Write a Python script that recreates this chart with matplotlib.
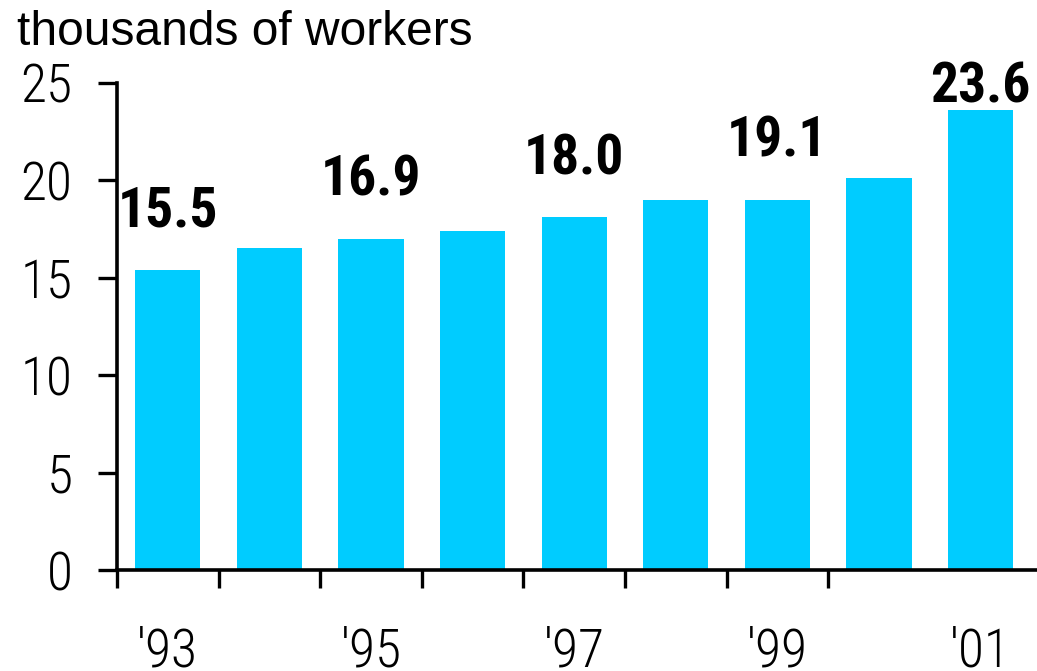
import matplotlib
matplotlib.use("Agg")
import matplotlib.pyplot as plt

# dados
anos = ["'93", "", "'95", "", "'97", "", "'99", "", "'01"]
valores = [15.4, 16.5, 17.0, 17.4, 18.1, 19.0, 19.0, 20.1, 23.6]
rotulos = ["15.5", "", "16.9", "", "18.0", "", "19.1", "", "23.6"]

cor = "#00CCFF"
fonte_estreita = ["Roboto Condensed", "DejaVu Sans"]

fig = plt.figure(figsize=(10.37, 6.71), dpi=100)
ax = fig.add_axes([117 / 1037, 101 / 671, 1 - 117 / 1037, 487.5 / 671])

x = list(range(len(valores)))
ax.bar(x, valores, width=0.64, color=cor, zorder=2)

# rótulos de valor acima das barras
for i, (v, r) in enumerate(zip(valores, rotulos)):
    if not r:
        continue
    desloc = 0.36 if i == len(valores) - 1 else 2.2
    ax.text(i, v + desloc, r, ha="center", va="baseline",
            fontsize=40, fontweight="bold", family=fonte_estreita)

ax.set_xlim(-0.5, 8.555)
ax.set_ylim(0, 25)
ax.set_yticks([0, 5, 10, 15, 20, 25])

# marcas do eixo x nos limites das categorias
ax.set_xticks([i - 0.5 for i in x[:-1]])
ax.set_xticklabels([])
ax.set_xticks(x, minor=True)
ax.set_xticklabels(anos, minor=True)

for s in ["top", "right"]:
    ax.spines[s].set_visible(False)
for s in ["left", "bottom"]:
    ax.spines[s].set_linewidth(2.6)

ax.tick_params(axis="y", which="major", length=14, width=2.4, pad=18)
ax.tick_params(axis="x", which="major", length=13, width=2.4)
ax.tick_params(axis="x", which="minor", length=0, pad=40)

for lab in ax.get_yticklabels() + ax.get_xticklabels(minor=True):
    lab.set_family(fonte_estreita)
    lab.set_fontsize(38.5)
    lab.set_fontweight(300)

fig.text(17 / 1037, 1 - 45 / 671, "thousands of workers", fontsize=34.5,
         family=["Liberation Sans", "DejaVu Sans"], va="baseline", ha="left")

fig.savefig("out.png", dpi=100)
